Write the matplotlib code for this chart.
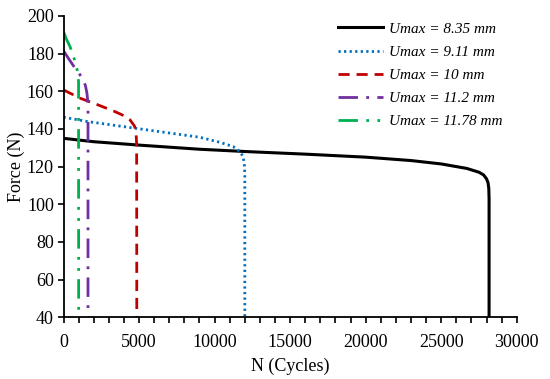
import matplotlib
matplotlib.use("Agg")
import matplotlib.pyplot as plt
from matplotlib.ticker import MultipleLocator

plt.rcParams['font.family'] = ['Liberation Serif', 'DejaVu Serif']

labels = ["Umax = 8.35 mm", "Umax = 9.11 mm", "Umax = 10 mm", "Umax = 11.2 mm", "Umax = 11.78 mm"]

n_835 = [0, 2000, 5000, 9000, 12000, 16000, 20000, 23000, 25000, 26700, 27500, 27800, 28000, 28100, 28150, 28170, 28170]
f_835 = [135, 133.2, 131.4, 129.2, 128, 126.6, 125, 123.2, 121.4, 119, 117, 115.6, 113.5, 111.5, 108.5, 103, 40]

n_911 = [0, 1600, 4700, 9000, 10350, 11230, 11670, 11890, 11970, 12000, 12000]
f_911 = [146.2, 143.9, 140.4, 135.6, 132.9, 130.6, 128, 125.3, 121, 116, 40]

n_10 = [0, 1100, 2300, 3400, 4000, 4400, 4700, 4800, 4840, 4850]
f_10 = [160.7, 156.3, 152.7, 149.2, 147, 144.8, 141.5, 138, 132, 40]

n_112 = [0, 320, 700, 1030, 1300, 1450, 1550, 1600, 1620, 1620]
f_112 = [181.5, 177.5, 173, 169.5, 166, 163, 159, 155, 150, 40]

n_1178 = [0, 200, 430, 700, 870, 960, 995, 1000]
f_1178 = [191.6, 187.5, 183.7, 177.5, 172.5, 169, 165, 40]

fig = plt.figure(figsize=(5.5, 3.79), dpi=100)
ax = fig.add_axes([0.1155, 0.163, 0.824, 0.795])

ax.plot(n_835, f_835, color='black', lw=2.2, linestyle='-', label=labels[0])
ax.plot(n_911, f_911, color='#0070C0', lw=2.0, linestyle=(0, (0.8, 1.2)), label=labels[1])
ax.plot(n_10, f_10, color='#C00000', lw=2.0, linestyle=(0, (4, 2.5)), label=labels[2])
ax.plot(n_112, f_112, color='#7030A0', lw=2.0, linestyle=(0, (7, 3, 1, 3)), label=labels[3])
ax.plot(n_1178, f_1178, color='#00B050', lw=2.0, linestyle=(0, (7, 3, 1, 3, 1, 3)), label=labels[4])

ax.set_xlim(0, 30000)
ax.set_ylim(40, 200)
ax.xaxis.set_major_locator(MultipleLocator(5000))
ax.xaxis.set_minor_locator(MultipleLocator(1000))
ax.yaxis.set_major_locator(MultipleLocator(20))
ax.tick_params(axis='both', which='both', direction='out', length=4, width=1.2, labelsize=13, colors='black')
ax.tick_params(axis='x', pad=8)
ax.tick_params(axis='y', pad=3)
for s in ['top', 'right']:
    ax.spines[s].set_visible(False)
for s in ['left', 'bottom']:
    ax.spines[s].set_linewidth(1.3)

ax.set_xlabel("N (Cycles)", fontsize=13, labelpad=5)
ax.set_ylabel("Force (N)", fontsize=13, labelpad=1)

leg = ax.legend(loc='upper right', bbox_to_anchor=(1.0, 1.025), frameon=False,
                prop={'family': 'Liberation Serif', 'style': 'italic', 'size': 11},
                handlelength=3.0, labelspacing=0.62, handletextpad=0.4)

fig.savefig("out.png", dpi=100)
